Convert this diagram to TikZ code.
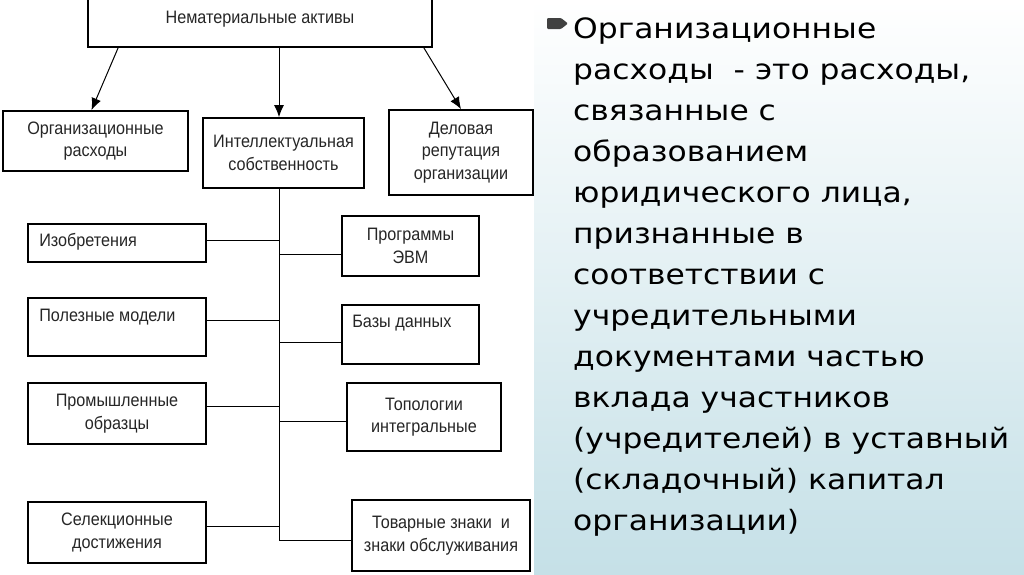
\documentclass[tikz,border=0pt]{standalone}
\usepackage{fontspec}
\setmainfont{Liberation Sans}
\newfontfamily\chartfont[FakeStretch=0.9]{Liberation Sans}
\newfontfamily\slidefont[FakeStretch=1.12]{DejaVu Sans}
\usetikzlibrary{arrows.meta,calc}
\definecolor{panelblue}{RGB}{197,224,231}
\definecolor{bulletgray}{RGB}{64,64,64}
\tikzset{
	box/.style={draw, line width=1.8, inner sep=0, align=center, text=black!85,
		font=\chartfont\fontsize{18}{22.5}\selectfont},
	caption/.style={inner sep=0, anchor=west, text=black!85,
		font=\chartfont\fontsize{18}{22.5}\selectfont},
	link/.style={line width=1},
	arrow/.style={link, -{Latex[length=12,width=10]}}
}

\begin{document}
\begin{tikzpicture}[x=1pt,y=-1pt]
			%%%%% START %%%%%
			\clip (0,0) rectangle (1024,574);
			
			% right panel
			\shade[top color=white, bottom color=panelblue] (534,0) rectangle (1024,574);
			\fill[bulletgray, rounded corners=1] (547,18) -- (561,18) -- (568,23.5) -- (561,29) -- (547,29) -- cycle;
			\node[inner sep=0, anchor=north west, align=left, font=\slidefont\fontsize{28}{41}\selectfont] (body) at (573,18)
				{Организационные\\
				расходы~~- это расходы,\\
				связанные с\\
				образованием\\
				юридического лица,\\
				признанные в\\
				соответствии с\\
				учредительными\\
				документами частью\\
				вклада участников\\
				(учредителей) в уставный\\
				(складочный) капитал\\
				организации)};
			
			% top level
			\node[box, minimum width=344, minimum height=56] (top) at (260,19) {Нематериальные активы};
			\node[box, minimum width=185, minimum height=60] (org) at (95.5,141) {Организационные\\расходы};
			\node[box, minimum width=161, minimum height=70] (intel) at (283.5,153) {Интеллектуальная\\собственность};
			\node[box, minimum width=144, minimum height=85] (delo) at (461,152.5) {Деловая\\репутация\\организации};
			
			% left column
			\node[box, minimum width=178, minimum height=38] (izobr) at (117,243) {};
			\node[caption] (izobrtxt) at ($(izobr.west)+(12,-1)$) {Изобретения};
			\node[box, minimum width=178, minimum height=58] (polez) at (117,327) {};
			\node[caption] (poleztxt) at ($(polez.north west)+(12,20)$) {Полезные модели};
			\node[box, minimum width=178, minimum height=61] (prom) at (117,413.5) {Промышленные\\образцы};
			\node[box, minimum width=178, minimum height=61] (selek) at (117,532.5) {Селекционные\\достижения};
			
			% right column
			\node[box, minimum width=137, minimum height=60] (progr) at (410.5,246) {Программы\\ЭВМ};
			\node[box, minimum width=137, minimum height=59] (bazy) at (410.5,334.5) {};
			\node[caption] (bazytxt) at ($(bazy.north west)+(11,19)$) {Базы данных};
			\node[box, minimum width=154, minimum height=68] (topol) at (424,417) {Топологии\\интегральные};
			\node[box, minimum width=178, minimum height=71] (tovar) at (441,535.5) {Товарные знаки~~и\\знаки обслуживания};
			
			% arrows from the top
			\coordinate (trunk) at (279,188);
			\coordinate (trunkend) at (279,540);
			\draw[arrow] ($(top.south west)+(31,0)$) -- ($(org.north)+(-4,0)$);
			\draw[arrow] (trunk |- top.south) -- (trunk |- intel.north);
			\draw[arrow] ($(top.south east)+(-9,0)$) -- (delo.north);
			
			% trunk and branches
			\draw[link] (trunk) -- (trunkend);
			\draw[link] ($(izobr.east)+(0,-3)$) coordinate (b1) -- (trunk |- b1);
			\draw[link] ($(polez.east)+(0,-7)$) coordinate (b2) -- (trunk |- b2);
			\draw[link] ($(prom.east)+(0,-7.5)$) coordinate (b3) -- (trunk |- b3);
			\draw[link] ($(selek.east)+(0,-6.5)$) coordinate (b4) -- (trunk |- b4);
			\draw[link] ($(progr.west)+(0,8)$) coordinate (b5) -- (trunk |- b5);
			\draw[link] ($(bazy.west)+(0,7.5)$) coordinate (b6) -- (trunk |- b6);
			\draw[link] ($(topol.west)+(0,4)$) coordinate (b7) -- (trunk |- b7);
			\draw[link] ($(tovar.west)+(0,4.5)$) coordinate (b8) -- (trunk |- b8);
			
			%%%%% END %%%%%
\end{tikzpicture}
\end{document}
